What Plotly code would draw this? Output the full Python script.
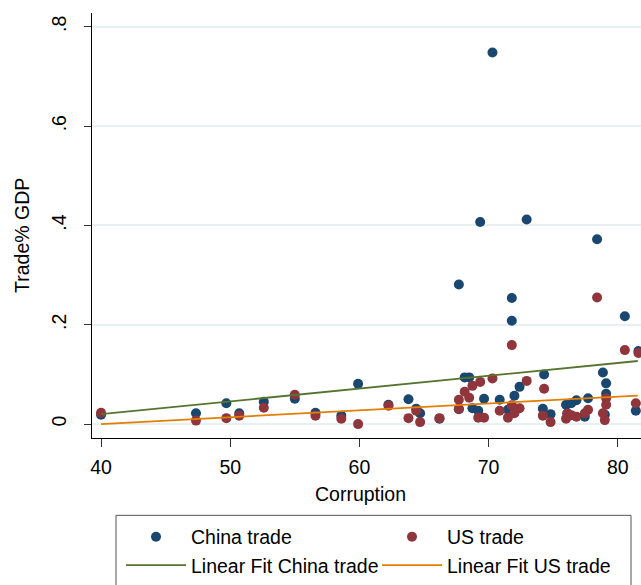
import plotly.graph_objects as go

# ---- data ----
corruption = [40.0, 47.35, 49.7, 50.7, 52.6, 55.0, 56.6, 58.6, 59.9, 62.25,
              63.8, 64.4, 64.7, 66.2, 67.7, 67.7, 68.15, 68.5, 68.75, 69.35,
              69.2, 69.65, 70.3, 70.86, 71.5, 71.8, 71.8, 72.0, 72.4, 72.95,
              74.3, 74.2, 74.8, 76.0, 76.1, 76.4, 76.8, 77.7, 77.45, 78.4,
              78.85, 79.1, 79.1, 79.0, 80.55, 81.6, 81.4]
china_trade = [0.019, 0.022, 0.042, 0.022, 0.045, 0.051, 0.023, 0.017, 0.081, 0.039,
               0.050, 0.031, 0.022, 0.011, 0.281, 0.030, 0.094, 0.094, 0.032, 0.407,
               0.027, 0.051, 0.748, 0.049, 0.029, 0.254, 0.208, 0.057, 0.075, 0.412,
               0.100, 0.031, 0.020, 0.039, 0.022, 0.042, 0.048, 0.052, 0.015, 0.372,
               0.104, 0.082, 0.061, 0.019, 0.217, 0.147, 0.027]
us_trade = [0.023, 0.007, 0.012, 0.017, 0.033, 0.059, 0.017, 0.011, 0.000, 0.037,
            0.012, 0.027, 0.004, 0.012, 0.049, 0.031, 0.065, 0.053, 0.077, 0.085,
            0.013, 0.013, 0.092, 0.027, 0.013, 0.159, 0.038, 0.022, 0.032, 0.087,
            0.071, 0.017, 0.004, 0.011, 0.021, 0.018, 0.015, 0.029, 0.022, 0.255,
            0.022, 0.052, 0.039, 0.008, 0.149, 0.143, 0.042]

fit_x = [40.0, 81.55]
fit_china = [0.020, 0.127]
fit_us = [0.000, 0.0575]

y_ticks = [0, 0.2, 0.4, 0.6, 0.8]
y_ticktext = ["0", ".2", ".4", ".6", ".8"]
x_ticks = [40, 50, 60, 70, 80]

NAVY = "#1a476f"
MAROON = "#90353b"
GREEN = "#55752f"
ORANGE = "#e37e00"
FONT = "Liberation Sans, Arial, sans-serif"

W, H = 641, 585
ML, MR, MT, MB = 92, 0, 13, 145
PW, PH = W - ML - MR, H - MT - MB

def px(xp):
    return (xp - ML) / PW

def py(yp):
    return (H - MB - yp) / PH

fig = go.Figure()
fig.add_trace(go.Scatter(x=corruption, y=china_trade, mode="markers", name="China trade",
                         marker=dict(color=NAVY, size=10, line=dict(width=0))))
fig.add_trace(go.Scatter(x=corruption, y=us_trade, mode="markers", name="US trade",
                         marker=dict(color=MAROON, size=10, line=dict(width=0))))
fig.add_trace(go.Scatter(x=fit_x, y=fit_china, mode="lines", name="Linear Fit China trade",
                         line=dict(color=GREEN, width=1.8)))
fig.add_trace(go.Scatter(x=fit_x, y=fit_us, mode="lines", name="Linear Fit US trade",
                         line=dict(color=ORANGE, width=1.8)))

fig.update_layout(
    width=W, height=H,
    margin=dict(l=ML, r=MR, t=MT, b=MB, pad=0),
    paper_bgcolor="white", plot_bgcolor="white",
    font=dict(family=FONT, size=19.5, color="black"),
    showlegend=True,
    legend=dict(orientation="h", x=px(121), y=py(520), xanchor="left", yanchor="top",
                entrywidth=181, entrywidthmode="pixels", itemwidth=60,
                bgcolor="rgba(0,0,0,0)", borderwidth=0,
                font=dict(family=FONT, size=19.5, color="black"),
                traceorder="normal"),
    xaxis=dict(range=[39.3, 81.8], tickvals=x_ticks, ticks="outside", ticklen=8,
               tickcolor="#333", tickwidth=1, showline=True, linecolor="black", linewidth=1.3,
               showgrid=False, zeroline=False, tickfont=dict(size=19.5),
               ticklabelstandoff=3),
    yaxis=dict(range=[-0.028, 0.8277], tickvals=y_ticks, ticktext=y_ticktext,
               ticks="outside", ticklen=7, tickcolor="#333", tickwidth=1,
               showline=True, linecolor="black", linewidth=1.3,
               showgrid=True, gridcolor="#e9f0f2", gridwidth=1.5, zeroline=False,
               tickangle=-90, ticklabelstandoff=10, tickfont=dict(size=19.5)),
    annotations=[
        dict(text="Corruption", xref="paper", yref="paper", x=px(360), y=py(496),
             xanchor="center", yanchor="middle", showarrow=False,
             font=dict(family=FONT, size=19.5, color="black")),
        dict(text="Trade% GDP", xref="paper", yref="paper", x=px(22), y=py(237),
             xanchor="center", yanchor="middle", textangle=-90, showarrow=False,
             font=dict(family=FONT, size=19.5, color="black")),
    ],
    shapes=[
        dict(type="rect", xref="paper", yref="paper", x0=px(116), x1=px(631),
             y0=py(517.7), y1=py(600), line=dict(color="#555", width=1),
             fillcolor="rgba(0,0,0,0)", layer="above"),
    ],
)

fig.write_html("out.html", config={"displayModeBar": False},
               post_script="document.body.style.margin='0';document.body.style.overflow='hidden';")
